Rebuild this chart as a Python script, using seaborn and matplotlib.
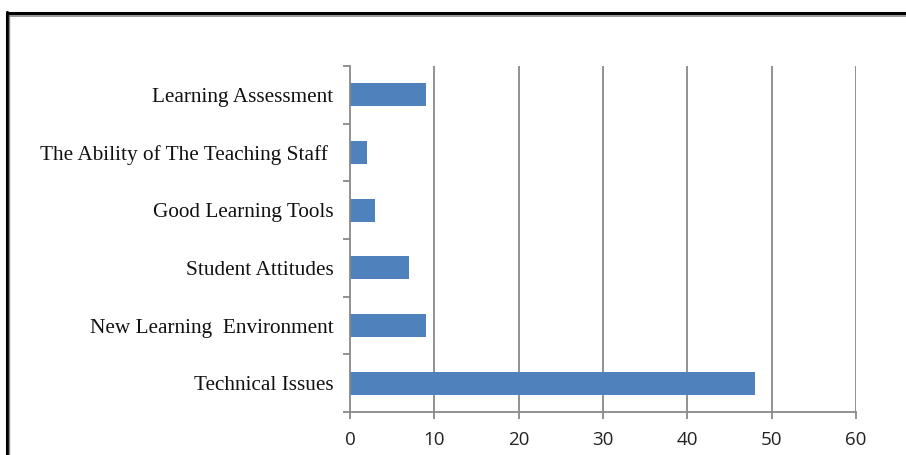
import matplotlib
matplotlib.use("Agg")
import matplotlib.pyplot as plt
import seaborn as sns
import pandas as pd
import numpy as np
from matplotlib.lines import Line2D
from matplotlib.ticker import FixedLocator

categories = [
    "Learning Assessment",
    "The Ability of The Teaching Staff ",
    "Good Learning Tools",
    "Student Attitudes",
    "New Learning  Environment",
    "Technical Issues",
]
values = [9, 2, 3, 7, 9, 48]
x_ticks = [0, 10, 20, 30, 40, 50, 60]

df = pd.DataFrame({"category": categories, "value": values})

sns.set_style("white")
fig = plt.figure(figsize=(9.06, 4.55), dpi=100)
ax = fig.add_axes([350 / 906, 1 - 412 / 455, (856 - 350) / 906, (412 - 66) / 455])

sns.barplot(data=df, x="value", y="category", color="#4F81BD", saturation=1,
            width=0.4, ax=ax, order=categories, linewidth=0)

grid_c = "#898989"
ax.set_xlim(0, 60)
ax.set_ylim(len(categories) - 0.5, -0.5)
ax.set_xticks(x_ticks)
for xv in x_ticks[1:]:
    ax.axvline(xv, color=grid_c, lw=1.3, zorder=0)
ax.set_axisbelow(True)

for s in ["top", "right"]:
    ax.spines[s].set_visible(False)
for s in ["left", "bottom"]:
    ax.spines[s].set_color(grid_c)
    ax.spines[s].set_linewidth(1.3)

ax.set_xlabel("")
ax.set_ylabel("")

ax.yaxis.set_minor_locator(FixedLocator(np.arange(-0.5, len(categories), 1.0)))
ax.tick_params(axis="y", which="major", length=0, pad=12)
ax.tick_params(axis="y", which="minor", length=5, width=1.3, color=grid_c, left=True, direction="out")
ax.tick_params(axis="x", which="major", length=5, width=1.3, color=grid_c, bottom=True, direction="out", pad=9)

for lab in ax.get_yticklabels():
    lab.set_fontfamily("Liberation Serif")
    lab.set_fontsize(15.3)
    lab.set_color("#111111")
for lab in ax.get_xticklabels():
    lab.set_fontfamily("Open Sans")
    lab.set_fontsize(13.5)
    lab.set_color("#222222")

# outer frame
fig.add_artist(Line2D([6.5 / 906, 1.0], [1 - 13 / 455, 1 - 13 / 455], transform=fig.transFigure, color="black", lw=2.2))
fig.add_artist(Line2D([8 / 906, 1.0], [1 - 15.5 / 455, 1 - 15.5 / 455], transform=fig.transFigure, color="#888888", lw=1.2))
fig.add_artist(Line2D([6.5 / 906, 6.5 / 906], [0, 1 - 12 / 455], transform=fig.transFigure, color="black", lw=2.2))
fig.add_artist(Line2D([8.5 / 906, 8.5 / 906], [0, 1 - 15 / 455], transform=fig.transFigure, color="#888888", lw=1.0))

fig.savefig("out.png", dpi=100)
